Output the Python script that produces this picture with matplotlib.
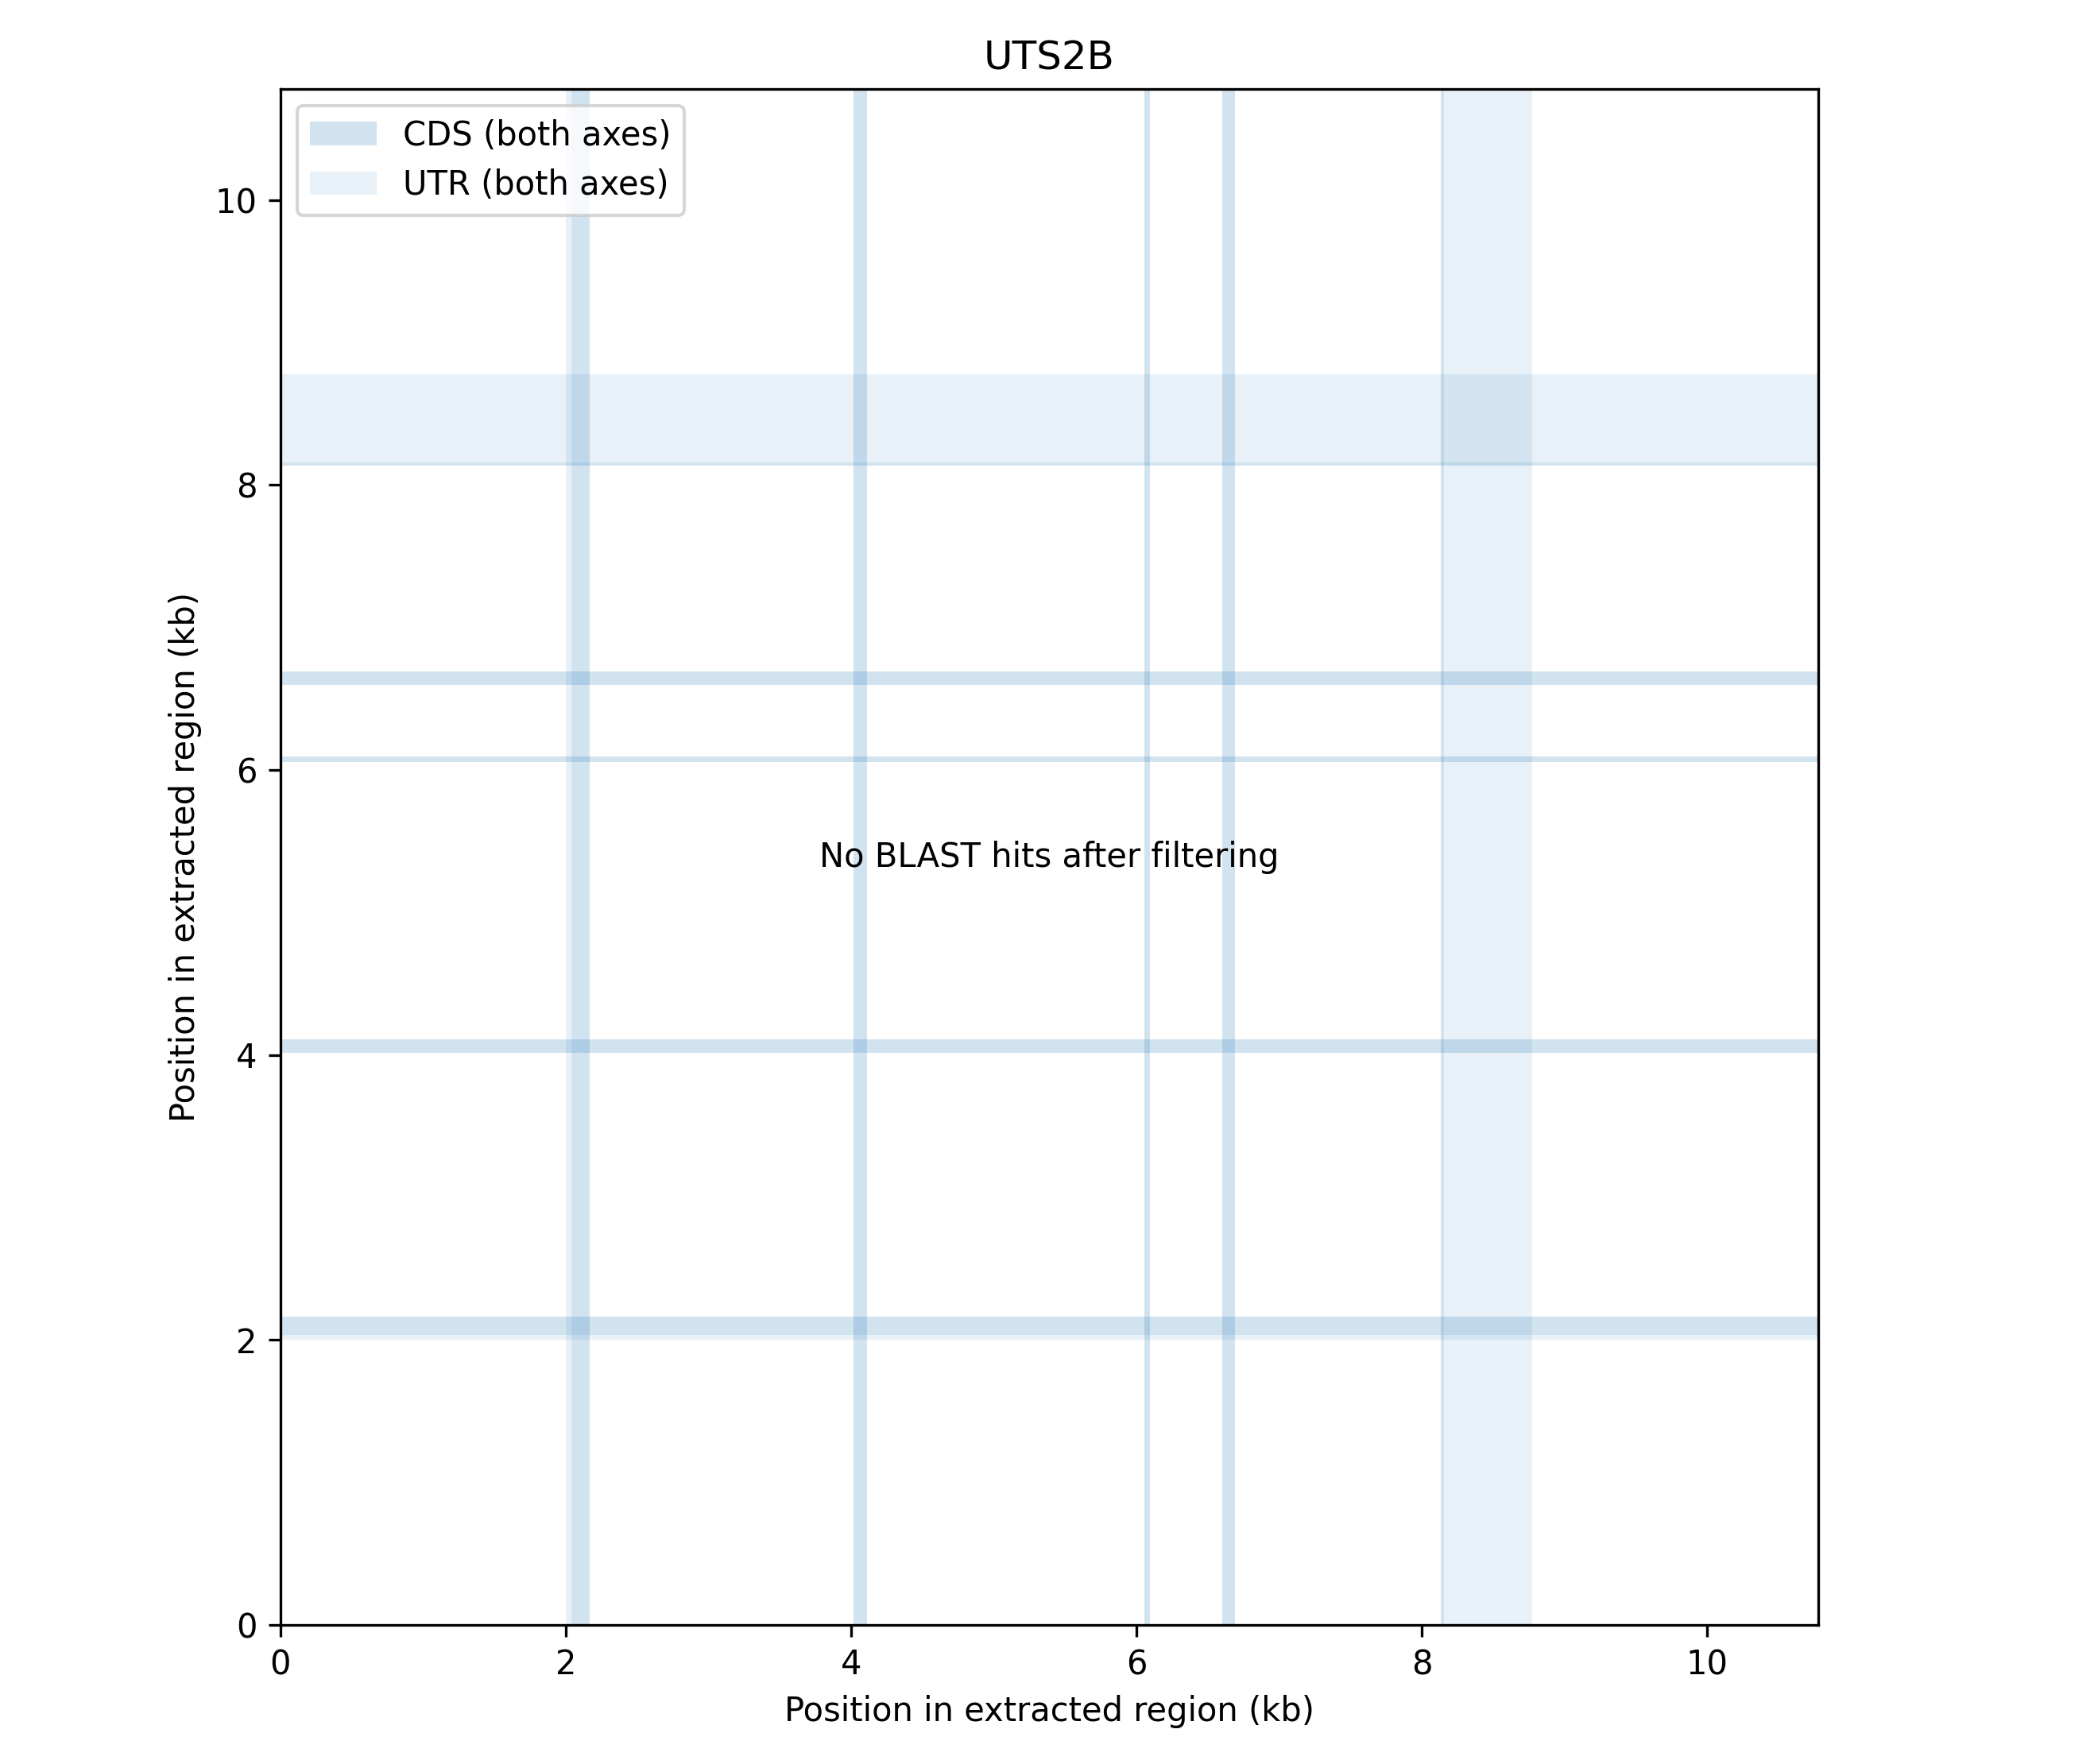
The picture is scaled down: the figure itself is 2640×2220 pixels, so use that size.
import matplotlib
matplotlib.use('Agg')
import matplotlib.pyplot as plt

# exon segments in kb, same on both axes (self dot plot)
gene_name = 'UTS2B'
region_len = 10.78
cds_start = [2.037, 4.017, 6.056, 6.600, 8.136]
cds_end = [2.165, 4.111, 6.094, 6.690, 8.157]
utr_start = [2.000, 8.157]
utr_end = [2.037, 8.776]
ticks = [0, 2, 4, 6, 8, 10]


fig = plt.figure(figsize=(8.8, 7.4), dpi=300)
ax = fig.add_axes([353 / 2640, 175 / 2220, 1935 / 2640, 1933 / 2220])

# shade CDS and UTR on both axes
for i, (s, e) in enumerate(zip(cds_start, cds_end)):
    ax.axvspan(s, e, facecolor='C0', alpha=0.2, lw=0,
               label='CDS (both axes)' if i == 0 else None)
    ax.axhspan(s, e, facecolor='C0', alpha=0.2, lw=0)
for i, (s, e) in enumerate(zip(utr_start, utr_end)):
    ax.axvspan(s, e, facecolor='C0', alpha=0.1, lw=0,
               label='UTR (both axes)' if i == 0 else None)
    ax.axhspan(s, e, facecolor='C0', alpha=0.1, lw=0)

ax.text(0.5, 0.5, 'No BLAST hits after filtering', transform=ax.transAxes,
        ha='center', va='center', fontsize=10)

ax.set_xlim(0, region_len)
ax.set_ylim(0, region_len)
ax.set_xticks(ticks)
ax.set_yticks(ticks)
ax.set_xlabel('Position in extracted region (kb)')
ax.set_ylabel('Position in extracted region (kb)')
ax.set_title(gene_name, fontsize=12)
ax.legend(loc='upper left')

fig.savefig('out.png', dpi=300)
